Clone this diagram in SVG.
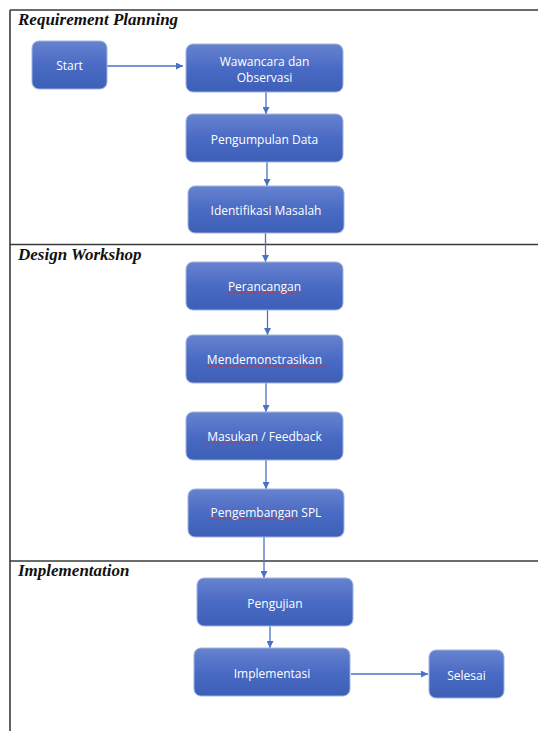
<svg xmlns="http://www.w3.org/2000/svg" width="538" height="731" viewBox="0 0 538 731">
<style>
.frame{stroke:#3a3a3a;stroke-width:1.6;fill:none}
.lane{font-family:"Liberation Serif",serif;font-weight:bold;font-style:italic;font-size:17px;fill:#111}
.box{fill:url(#g);stroke:#9fb3e0;stroke-width:1}
.lbl{font-family:"Open Sans","Noto Sans",sans-serif;font-size:12px;fill:#fff;text-anchor:middle;dominant-baseline:central}
.con{stroke:#4a72c4;stroke-width:1.3;fill:none;marker-end:url(#ah)}
.sq{stroke:#d23030;stroke-width:0.8;fill:none}
</style>
<defs>
<linearGradient id="g" x1="0" y1="0" x2="0" y2="1">
<stop offset="0" stop-color="#6783cf"/>
<stop offset="0.5" stop-color="#4a6bc4"/>
<stop offset="1" stop-color="#3e5fb6"/>
</linearGradient>
<marker id="ah" viewBox="0 0 10 10" refX="10" refY="5" markerWidth="7" markerHeight="7" markerUnits="userSpaceOnUse" orient="auto">
<path d="M0,0 L10,5 L0,10 z" fill="#4a72c4"/>
</marker>
</defs>
<rect width="538" height="731" fill="#fff"/>
<g id="frame">
<line class="frame" x1="10" y1="10" x2="538" y2="10"/>
<line class="frame" x1="10" y1="10" x2="10" y2="731"/>
<line class="frame" x1="10" y1="244.5" x2="538" y2="244.5"/>
<line class="frame" x1="10" y1="561" x2="538" y2="561"/>
<text class="lane" x="18" y="25">Requirement Planning</text>
<text class="lane" x="18" y="260">Design Workshop</text>
<text class="lane" x="18" y="576">Implementation</text>
</g>
<g id="connectors">
<line class="con" x1="107" y1="66" x2="183" y2="66"/>
<line class="con" x1="266" y1="92" x2="266" y2="114"/>
<line class="con" x1="267" y1="162" x2="267" y2="186"/>
<line class="con" x1="265.5" y1="233" x2="265.5" y2="262"/>
<line class="con" x1="267.5" y1="310" x2="267.5" y2="335"/>
<line class="con" x1="266" y1="383" x2="266" y2="412"/>
<line class="con" x1="266" y1="460" x2="266" y2="489"/>
<line class="con" x1="264" y1="537" x2="264" y2="578"/>
<line class="con" x1="270" y1="626" x2="270" y2="648"/>
<line class="con" x1="351" y1="674" x2="428" y2="674"/>
</g>
<g id="start"><rect class="box" x="32" y="41" width="75" height="48" rx="7"/><text class="lbl" x="69.5" y="65">Start</text></g>
<g id="wawancara"><rect class="box" x="186" y="44" width="157" height="48" rx="7"/><text class="lbl" x="264.5" y="61">Wawancara dan</text><text class="lbl" x="264.5" y="77">Observasi</text></g>
<g id="pengumpulan"><rect class="box" x="186" y="114" width="157" height="48" rx="7"/><text class="lbl" x="264.5" y="139">Pengumpulan Data</text></g>
<g id="identifikasi"><rect class="box" x="188" y="186" width="156" height="47" rx="7"/><text class="lbl" x="266" y="210">Identifikasi Masalah</text></g>
<g id="perancangan"><rect class="box" x="186" y="262" width="157" height="48" rx="7"/><text class="lbl" x="264.5" y="286">Perancangan</text><path class="sq" d="M228,293 q1.5,-1.5 3,0 t3,0 t3,0 t3,0 t3,0 t3,0 t3,0 t3,0 t3,0 t3,0 t3,0 t3,0 t3,0 t3,0 t3,0 t3,0 t3,0 t3,0 t3,0 t3,0 t3,0 t3,0 t3,0 t3,0"/></g>
<g id="mendemonstrasikan"><rect class="box" x="186" y="335" width="157" height="48" rx="7"/><text class="lbl" x="264.5" y="359">Mendemonstrasikan</text><path class="sq" d="M205,366 q1.5,-1.5 3,0 t3,0 t3,0 t3,0 t3,0 t3,0 t3,0 t3,0 t3,0 t3,0 t3,0 t3,0 t3,0 t3,0 t3,0 t3,0 t3,0 t3,0 t3,0 t3,0 t3,0 t3,0 t3,0 t3,0 t3,0 t3,0 t3,0 t3,0 t3,0 t3,0 t3,0 t3,0 t3,0 t3,0 t3,0 t3,0 t3,0 t3,0 t3,0 t3,0"/></g>
<g id="masukan"><rect class="box" x="186" y="412" width="157" height="48" rx="7"/><text class="lbl" x="264.5" y="436">Masukan / Feedback</text><path class="sq" d="M205,443 q1.5,-1.5 3,0 t3,0 t3,0 t3,0 t3,0 t3,0 t3,0 t3,0 t3,0 t3,0 t3,0 t3,0 t3,0 t3,0 t3,0 t3,0 t3,0 t3,0"/></g>
<g id="pengembangan"><rect class="box" x="188" y="489" width="156" height="48" rx="7"/><text class="lbl" x="266" y="512">Pengembangan SPL</text><path class="sq" d="M209,519 q1.5,-1.5 3,0 t3,0 t3,0 t3,0 t3,0 t3,0 t3,0 t3,0 t3,0 t3,0 t3,0 t3,0 t3,0 t3,0 t3,0 t3,0 t3,0 t3,0 t3,0 t3,0 t3,0 t3,0 t3,0 t3,0 t3,0 t3,0 t3,0 t3,0 t3,0 t3,0"/></g>
<g id="pengujian"><rect class="box" x="197" y="578" width="156" height="48" rx="7"/><text class="lbl" x="275" y="603">Pengujian</text></g>
<g id="implementasi"><rect class="box" x="194" y="648" width="156" height="48" rx="7"/><text class="lbl" x="272" y="673">Implementasi</text></g>
<g id="selesai"><rect class="box" x="429" y="650" width="75" height="48" rx="7"/><text class="lbl" x="466.5" y="675">Selesai</text></g>
</svg>
